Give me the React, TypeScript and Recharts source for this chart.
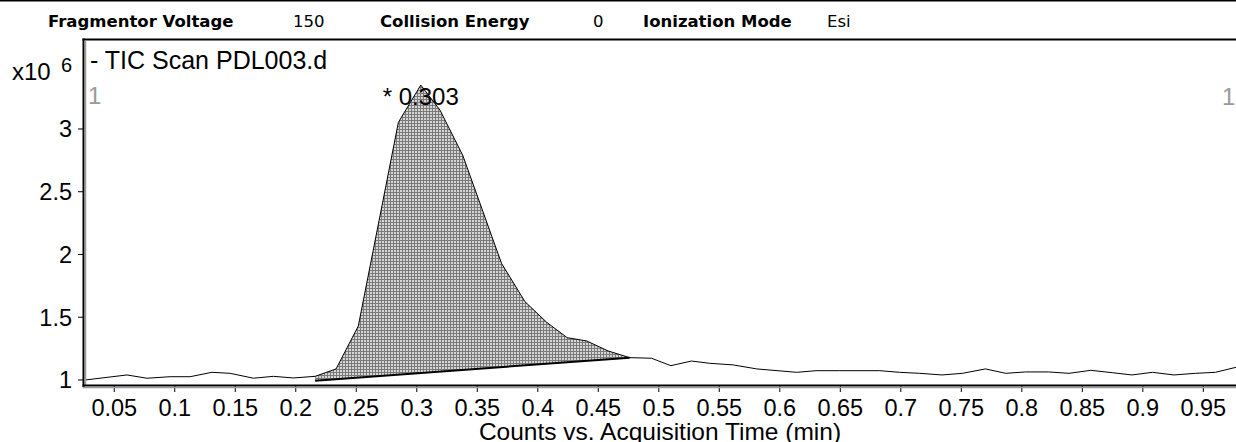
import React from "react";
import { ComposedChart, Line, Area, XAxis, YAxis, ReferenceDot } from "recharts";

// retention time (min) and TIC counts (x10^6)
const times = [
  0.026, 0.0605, 0.077, 0.0962, 0.1127, 0.1307, 0.1458, 0.165, 0.1815, 0.198,
  0.216, 0.2333, 0.2517, 0.2848, 0.3033, 0.3192, 0.338, 0.37, 0.3894, 0.4073,
  0.4243, 0.4404, 0.4582, 0.476, 0.494, 0.51, 0.527, 0.542, 0.5615, 0.581,
  0.614, 0.63, 0.6496, 0.6826, 0.699, 0.7156, 0.734, 0.751, 0.77, 0.7867,
  0.803, 0.822, 0.839, 0.857, 0.8748, 0.891, 0.908, 0.9257, 0.9436, 0.96, 0.977,
];
const counts = [
  1.0, 1.04, 1.014, 1.026, 1.026, 1.061, 1.053, 1.014, 1.029, 1.016,
  1.029, 1.088, 1.43, 3.053, 3.35, 3.15, 2.79, 1.93, 1.624, 1.46,
  1.337, 1.311, 1.231, 1.178, 1.173, 1.114, 1.151, 1.133, 1.12, 1.088,
  1.061, 1.074, 1.074, 1.074, 1.061, 1.053, 1.04, 1.053, 1.088, 1.053,
  1.064, 1.064, 1.053, 1.077, 1.058, 1.04, 1.061, 1.04, 1.053, 1.061, 1.101,
];

// integration limits of the peak (time, counts)
const integStart = [0.216, 0.994];
const integEnd = [0.476, 1.178];
const apex = [0.3033, 3.35];
const apexLabel = "* 0.303";

const xTicks = [0.05, 0.1, 0.15, 0.2, 0.25, 0.3, 0.35, 0.4, 0.45, 0.5, 0.55, 0.6, 0.65, 0.7, 0.75, 0.8, 0.85, 0.9, 0.95];
const yTicks = [1, 1.5, 2, 2.5, 3];

const headerLabels = ["Fragmentor Voltage", "Collision Energy", "Ionization Mode"];
const headerValues = ["150", "0", "Esi"];
const traceTitle = "- TIC Scan PDL003.d";
const xTitle = "Counts vs. Acquisition Time (min)";

const W = 1236;
const H = 442;
const FONT = "'Liberation Sans', Arial, sans-serif";

const trace = times.map((t, i) => ({ t, c: counts[i] }));

const baseAt = (t: number) =>
  integStart[1] + ((integEnd[1] - integStart[1]) * (t - integStart[0])) / (integEnd[0] - integStart[0]);

const peak = trace
  .filter((d) => d.t >= integStart[0] && d.t <= integEnd[0])
  .map((d) => ({ t: d.t, band: [baseAt(d.t), d.c] }));

const baseline = [
  { t: integStart[0], c: integStart[1] },
  { t: integEnd[0], c: integEnd[1] },
];

const labelX = [48, 380, 643];
const valueX = [293, 593, 827];

export default function App() {
  return (
    <div style={{ position: "absolute", left: 0, top: 0, width: W, height: H, background: "#fff", overflow: "hidden" }}>
      <ComposedChart width={W} height={H} margin={{ top: 40, right: 0, bottom: 0, left: 0 }}>
        <defs>
          <pattern id="mesh" width="3" height="3" patternUnits="userSpaceOnUse">
            <rect width="3" height="3" fill="#d6d6d6" />
            <path d="M0 0.5H3M0.5 0V3" stroke="#7a7a7a" strokeWidth="1" />
          </pattern>
        </defs>
        <XAxis
          dataKey="t"
          type="number"
          domain={[0.025, 0.977]}
          allowDataOverflow
          ticks={xTicks}
          tickFormatter={(v) => String(v)}
          height={56}
          axisLine={false}
          tickLine={{ stroke: "#000" }}
          tickSize={6}
          tickMargin={7}
          tick={{ fill: "#000", fontSize: 23.5, fontFamily: FONT }}
          interval={0}
          label={{ value: xTitle, position: "insideBottom", offset: 2, fill: "#000", fontSize: 24.5, fontFamily: FONT }}
        />
        <YAxis
          type="number"
          domain={[0.952, 3.709]}
          allowDataOverflow
          ticks={yTicks}
          width={84}
          axisLine={false}
          tickLine={{ stroke: "#000" }}
          tickSize={6}
          tickMargin={6}
          tick={{ fill: "#000", fontSize: 23.5, fontFamily: FONT }}
          interval={0}
        />
        <Area
          data={peak}
          dataKey="band"
          type="linear"
          fill="url(#mesh)"
          fillOpacity={1}
          stroke="none"
          isAnimationActive={false}
        />
        <Line data={baseline} dataKey="c" type="linear" stroke="#000" strokeWidth={2} dot={false} isAnimationActive={false} />
        <Line data={trace} dataKey="c" type="linear" stroke="#000" strokeWidth={1} dot={false} isAnimationActive={false} />
        <ReferenceDot
          x={apex[0]}
          y={apex[1]}
          r={0}
          fill="none"
          stroke="none"
          label={{ value: apexLabel, position: "center", dy: 11, fill: "#000", fontSize: 24, fontFamily: FONT }}
        />
      </ComposedChart>
      <svg width={W} height={H} style={{ position: "absolute", left: 0, top: 0, pointerEvents: "none" }}>
        <line x1={0} x2={W} y1={0.75} y2={0.75} stroke="#000" strokeWidth={1.5} />
        {headerLabels.map((s, i) => (
          <text key={s} x={labelX[i]} y={27} fontFamily="'DejaVu Sans', sans-serif" fontWeight="bold" fontSize={16.5} fill="#000">
            {s}
          </text>
        ))}
        {headerValues.map((s, i) => (
          <text key={s} x={valueX[i]} y={27} fontFamily="'DejaVu Sans', sans-serif" fontSize={16.5} fill="#000">
            {s}
          </text>
        ))}
        <line x1={82.5} x2={W} y1={39.5} y2={39.5} stroke="#000" strokeWidth={2} />
        <line x1={83.5} x2={83.5} y1={38.5} y2={387} stroke="#000" strokeWidth={2} />
        <line x1={85.5} x2={85.5} y1={40.5} y2={385} stroke="#9a9a9a" strokeWidth={1.5} />
        <line x1={82.5} x2={W} y1={385.5} y2={385.5} stroke="#000" strokeWidth={2} />
        <line x1={82.5} x2={W} y1={387.5} y2={387.5} stroke="#9a9a9a" strokeWidth={1.5} />
        <text x={12} y={80} fontFamily={FONT} fontSize={24} fill="#000">x10</text>
        <text x={61} y={72} fontFamily={FONT} fontSize={20} fill="#000">6</text>
        <text x={90} y={69} fontFamily={FONT} fontSize={25} fill="#000">{traceTitle}</text>
        <text x={88} y={104} fontFamily={FONT} fontSize={24} fill="#9a9a9a">1</text>
        <text x={1222} y={105} fontFamily={FONT} fontSize={24} fill="#9a9a9a">1</text>
      </svg>
    </div>
  );
}
